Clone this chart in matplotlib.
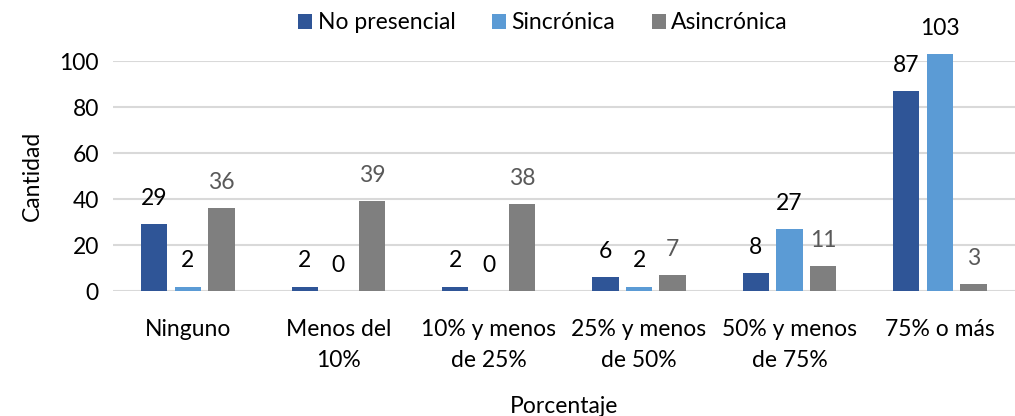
import numpy as np
import matplotlib
matplotlib.use("Agg")
import matplotlib.pyplot as plt

plt.rcParams['font.family'] = ['Lato', 'DejaVu Sans']

categorias = ["Ninguno", "Menos del\n10%", "10% y menos\nde 25%", "25% y menos\nde 50%",
              "50% y menos\nde 75%", "75% o más"]
no_presencial = [29, 2, 2, 6, 8, 87]
sincronica = [2, 0, 0, 2, 27, 103]
asincronica = [36, 39, 38, 7, 11, 3]

series = [("No presencial", no_presencial, "#2F5597", "#000000"),
          ("Sincrónica", sincronica, "#5B9BD5", "#000000"),
          ("Asincrónica", asincronica, "#7F7F7F", "#595959")]

fs = 16.5

fig = plt.figure(figsize=(10.15, 4.16), dpi=100)
ax = fig.add_axes([0.111, 0.30, 0.889, 0.553])

x = np.arange(len(categorias))
ancho = 0.175
paso = 0.223
for i, (nombre, vals, color, lcolor) in enumerate(series):
    pos = x + (i - 1) * paso
    bars = ax.bar(pos, vals, ancho, color=color, label=nombre, clip_on=False, zorder=3)
    for b, v in zip(bars, vals):
        ax.annotate(str(v), (b.get_x() + b.get_width() / 2, v), xytext=(0, 11),
                    textcoords="offset points", ha="center", va="bottom",
                    fontsize=fs, color=lcolor, annotation_clip=False)

ax.set_xlim(-0.5, len(categorias) - 0.5)
ax.set_ylim(0, 100)
ax.set_yticks(range(0, 101, 20))
ax.set_xticks(x)
ax.set_xticklabels(categorias, fontsize=fs, linespacing=1.6)
ax.tick_params(axis="y", labelsize=fs, length=0, pad=10)
ax.tick_params(axis="x", length=0, pad=20)
ax.yaxis.grid(True, color="#D9D9D9", linewidth=1.5, zorder=0)
ax.set_axisbelow(True)
for s in ax.spines.values():
    s.set_visible(False)

ax.set_ylabel("Cantidad", fontsize=fs, labelpad=12)
ax.set_xlabel("Porcentaje", fontsize=fs, labelpad=18)

fig.legend(loc="upper center", bbox_to_anchor=(0.535, 1.02), ncol=3, frameon=False,
           fontsize=fs, handlelength=0.6, handleheight=0.6, handletextpad=0.25,
           columnspacing=1.6)

fig.savefig("out.png", dpi=100)
